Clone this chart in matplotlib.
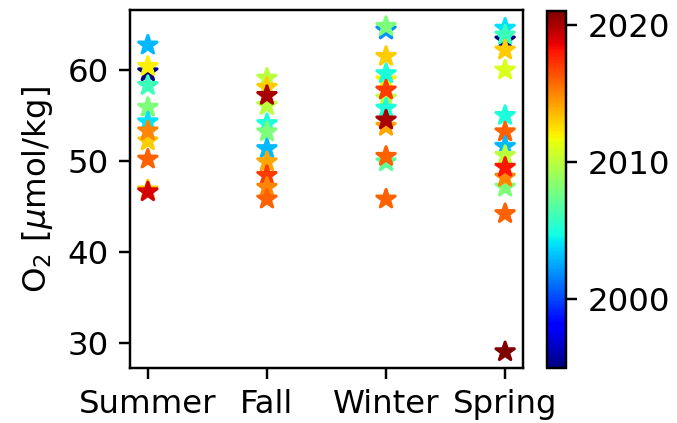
import matplotlib
matplotlib.use('Agg')
import matplotlib.pyplot as plt
import numpy as np

plt.rcParams['font.size'] = 10.6

seasons = ['Summer', 'Fall', 'Winter', 'Spring']

# O2 values (umol/kg) and sampling years per season (hidden points first)
summer_o2 = [59.8, 62.75, 60.4, 58.3, 55.9, 54.3, 52.2, 53.3, 50.2, 46.8, 46.6]
summer_yr = [1995, 2003, 2012, 2006, 2008, 2004, 2013, 2015, 2016, 2013, 2019]

fall_o2 = [59.1, 58.1, 56.1, 57.2, 54.1, 53.2, 51.35, 49.9, 48.4, 47.1, 45.8]
fall_yr = [2010, 2013, 2010, 2020, 2005, 2008, 2003, 2014, 2017, 2015, 2016]

winter_o2 = [64.4, 64.8, 61.5, 58.9, 59.6, 56.9, 57.8, 55.8, 53.8, 54.5, 49.9, 50.5, 45.8]
winter_yr = [2002, 2008, 2013, 2012, 2005, 2010, 2017, 2005, 2014, 2020, 2007, 2016, 2016]

spring_o2 = [63.3, 64.6, 63.85, 62.2, 60.0, 55.0, 53.2, 51.6, 50.6, 47.1, 48.2, 49.3, 44.2, 29.0]
spring_yr = [1995, 2004, 2006, 2013, 2011, 2005, 2016, 2003, 2010, 2008, 2015, 2018, 2016, 2021]

o2 = [summer_o2, fall_o2, winter_o2, spring_o2]
yrs = [summer_yr, fall_yr, winter_yr, spring_yr]

fig = plt.figure(figsize=(677 / 220, 423 / 220), dpi=220)
ax = fig.add_axes([0.192, 0.130, 0.5805, 0.846])
cax = fig.add_axes([0.808, 0.130, 0.028, 0.844])

all_yr = np.concatenate([np.array(y) for y in yrs])
vmin, vmax = all_yr.min(), all_yr.max()

for i in range(len(seasons)):
    sc = ax.scatter(np.full(len(o2[i]), i), o2[i], c=yrs[i], cmap='jet',
                    vmin=vmin, vmax=vmax, marker='*', s=40)

ax.set_xticks(range(len(seasons)))
ax.set_xticklabels(seasons)
ax.set_ylabel('O$_2$ [$\\mu$mol/kg]')

fig.colorbar(sc, cax=cax)

fig.savefig('out.png', dpi=220)
